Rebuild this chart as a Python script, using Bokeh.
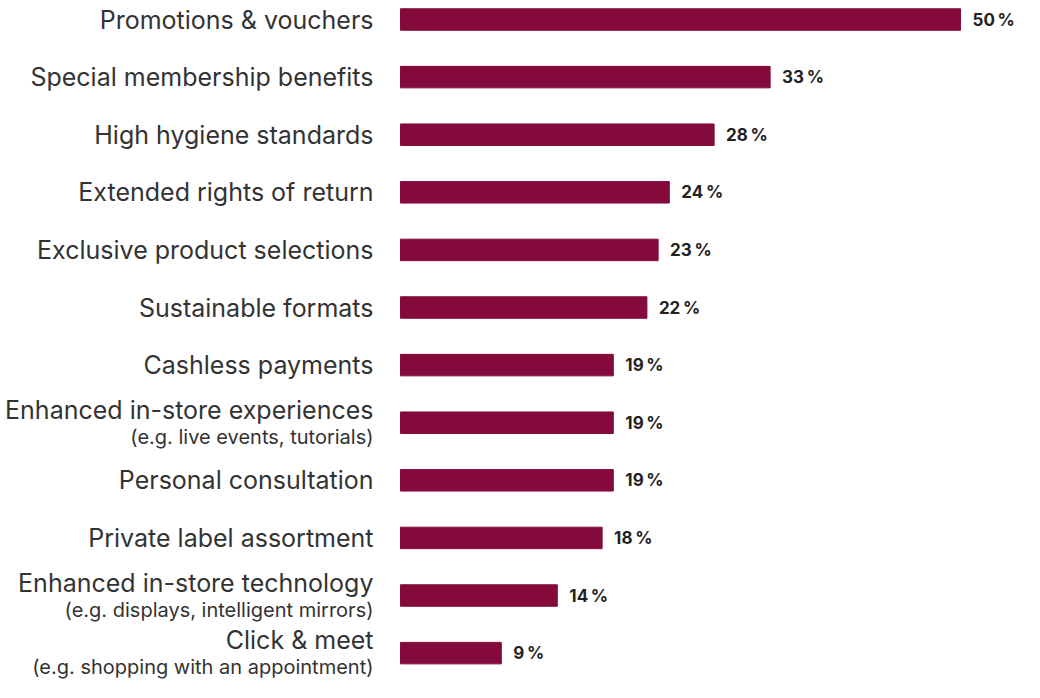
from bokeh.plotting import figure
from bokeh.models import Range1d, ColumnDataSource
from bokeh.embed import file_html
from bokeh.resources import INLINE
from bokeh.core.properties import value

categories = [
    "Promotions & vouchers",
    "Special membership benefits",
    "High hygiene standards",
    "Extended rights of return",
    "Exclusive product selections",
    "Sustainable formats",
    "Cashless payments",
    "Enhanced in-store experiences",
    "Personal consultation",
    "Private label assortment",
    "Enhanced in-store technology",
    "Click & meet",
]
sublabels = [
    "", "", "", "", "", "", "",
    "(e.g. live events, tutorials)",
    "", "",
    "(e.g. displays, intelligent mirrors)",
    "(e.g. shopping with an appointment)",
]
values = [50, 33, 28, 24, 23, 22, 19, 19, 19, 18, 14, 9]

BAR = "#840a3b"
TXT = "#333333"
FONT = "Inter"

idx = list(range(len(categories)))
main_off = [(-13 if s else 0) for s in sublabels]
src = ColumnDataSource(dict(
    y=idx, v=values, cat=categories, sub=sublabels, moff=main_off,
    vlab=[f"{v}\u2009%" for v in values], zero=[0] * len(values),
))

p = figure(width=1024, height=682, output_backend="svg", toolbar_location=None,
           x_range=Range1d(-35.71, 55.71), y_range=Range1d(11.51, -0.33),
           x_axis_location=None, y_axis_location=None, min_border=0)
p.outline_line_color = None
p.xgrid.visible = False
p.ygrid.visible = False

p.hbar(y="y", left=0, right="v", height=0.373, color=BAR, source=src)

p.text(x="zero", y="y", text="cat", x_offset=-27, y_offset="moff", source=src,
       text_align="right", text_baseline="middle", text_color=TXT,
       text_font=value(FONT), text_font_size="25px")
p.text(x="zero", y="y", text="sub", x_offset=-27, y_offset=14, source=src,
       text_align="right", text_baseline="middle", text_color=TXT,
       text_font=value(FONT), text_font_size="20px")
p.text(x="v", y="y", text="vlab", x_offset=12, source=src,
       text_align="left", text_baseline="middle", text_color="#222222",
       text_font=value(FONT), text_font_size="17px", text_font_style="bold")

open("out.html", "w").write(file_html(p, INLINE))
